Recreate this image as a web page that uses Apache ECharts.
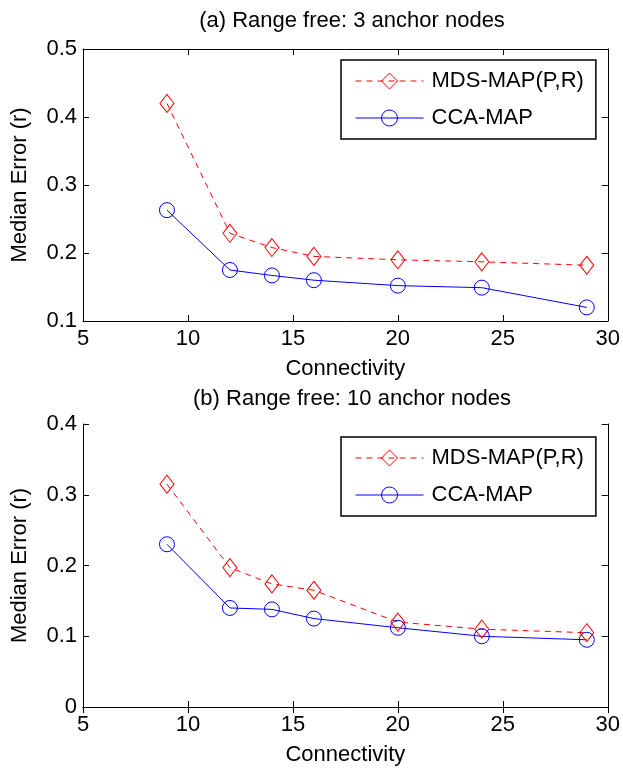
<!DOCTYPE html>
<html>
<head>
<meta charset="utf-8">
<script src="https://cdn.jsdelivr.net/npm/echarts@6/dist/echarts.min.js"></script>
<style>
  html, body { margin: 0; padding: 0; background: #fff; }
  #chart { width: 623px; height: 770px; }
</style>
</head>
<body>
<div id="chart"></div>
<script>
const connectivity = [9, 12, 14, 16, 20, 24, 29]

// (a) 3 anchor nodes
const mdsA = [0.42, 0.229, 0.208, 0.195, 0.19, 0.187, 0.182]
const ccaA = [0.263, 0.175, 0.167, 0.16, 0.152, 0.149, 0.12]

// (b) 10 anchor nodes
const mdsB = [0.315, 0.197, 0.174, 0.165, 0.12, 0.11, 0.105]
const ccaB = [0.23, 0.14, 0.138, 0.125, 0.112, 0.1, 0.095]

const titles = ['(a) Range free: 3 anchor nodes', '(b) Range free: 10 anchor nodes']
const seriesNames = ['MDS-MAP(P,R)', 'CCA-MAP']

const FONT = 'Liberation Sans, Arial, sans-serif'
const FS = 22

const toPairs = (ys) => connectivity.map((x, i) => [x, ys[i]])

const chart = echarts.init(document.getElementById('chart'))

const grids = [
  { left: 83, top: 49, width: 528, height: 272 },
  { left: 83, top: 424, width: 528, height: 283 }
]
const yRanges = [[0.1, 0.5], [0, 0.4]]

const xAxes = []
const yAxes = []
grids.forEach((g, i) => {
  // bottom axis with labels
  xAxes.push({
    gridIndex: i, type: 'value', min: 5, max: 30, interval: 5,
    name: 'Connectivity', nameLocation: 'middle', nameGap: 37,
    nameTextStyle: { color: '#000', fontFamily: FONT, fontSize: FS },
    axisLine: { lineStyle: { color: '#000', width: 1 } },
    axisTick: { inside: true, length: 6, lineStyle: { color: '#000' } },
    axisLabel: { color: '#000', fontFamily: FONT, fontSize: FS, margin: 7 },
    splitLine: { show: false }
  })
  // mirrored top axis
  xAxes.push({
    gridIndex: i, type: 'value', position: 'top', min: 5, max: 30, interval: 5,
    axisLine: { lineStyle: { color: '#000', width: 1 } },
    axisTick: { inside: true, length: 6, lineStyle: { color: '#000' } },
    axisLabel: { show: false },
    splitLine: { show: false }
  })
  yAxes.push({
    gridIndex: i, type: 'value', min: yRanges[i][0], max: yRanges[i][1], interval: 0.1,
    name: 'Median Error (r)', nameLocation: 'middle', nameGap: 52,
    nameTextStyle: { color: '#000', fontFamily: FONT, fontSize: FS },
    axisLine: { show: true, lineStyle: { color: '#000', width: 1 } },
    axisTick: { show: true, inside: true, length: 6, lineStyle: { color: '#000' } },
    axisLabel: { color: '#000', fontFamily: FONT, fontSize: FS, margin: 6 },
    splitLine: { show: false }
  })
  yAxes.push({
    gridIndex: i, type: 'value', position: 'right', min: yRanges[i][0], max: yRanges[i][1], interval: 0.1,
    axisLine: { show: true, lineStyle: { color: '#000', width: 1 } },
    axisTick: { show: true, inside: true, length: 6, lineStyle: { color: '#000' } },
    axisLabel: { show: false },
    splitLine: { show: false }
  })
})

const makeSeries = (gi, mds, cca) => [
  {
    name: seriesNames[0], type: 'line',
    xAxisIndex: gi * 2, yAxisIndex: gi * 2,
    data: toPairs(mds),
    symbol: 'diamond', symbolSize: [14, 18],
    lineStyle: { color: '#ff0000', width: 1, type: [6, 5] },
    itemStyle: { color: 'rgba(0,0,0,0)', borderColor: '#ff0000', borderWidth: 1 },
    animation: false
  },
  {
    name: seriesNames[1], type: 'line',
    xAxisIndex: gi * 2, yAxisIndex: gi * 2,
    data: toPairs(cca),
    symbol: 'circle', symbolSize: 15,
    lineStyle: { color: '#0000ff', width: 1 },
    itemStyle: { color: 'rgba(0,0,0,0)', borderColor: '#0000ff', borderWidth: 1 },
    animation: false
  }
]

const legendTops = [60, 437]
const legends = legendTops.map((t) => ({
  data: seriesNames,
  orient: 'vertical',
  left: 341, top: t,
  padding: [10, 12, 10, 14],
  itemWidth: 68, itemHeight: 20, itemGap: 15,
  borderColor: '#000', borderWidth: 1.5,
  backgroundColor: '#fff',
  itemStyle: { borderWidth: 1 },
  lineStyle: { width: 1 },
  textStyle: { color: '#000', fontFamily: FONT, fontSize: FS, padding: [0, 0, 0, 3] },
  selectedMode: false
}))

const option = {
  backgroundColor: '#fff',
  animation: false,
  title: titles.map((t, i) => ({
    text: t, left: 347, top: i === 0 ? 5 : 383, textAlign: 'center',
    textStyle: { color: '#000', fontFamily: FONT, fontSize: FS, fontWeight: 'normal' }
  })),
  legend: legends,
  grid: grids,
  xAxis: xAxes,
  yAxis: yAxes,
  series: [...makeSeries(0, mdsA, ccaA), ...makeSeries(1, mdsB, ccaB)]
}

chart.setOption(option)
</script>
</body>
</html>
